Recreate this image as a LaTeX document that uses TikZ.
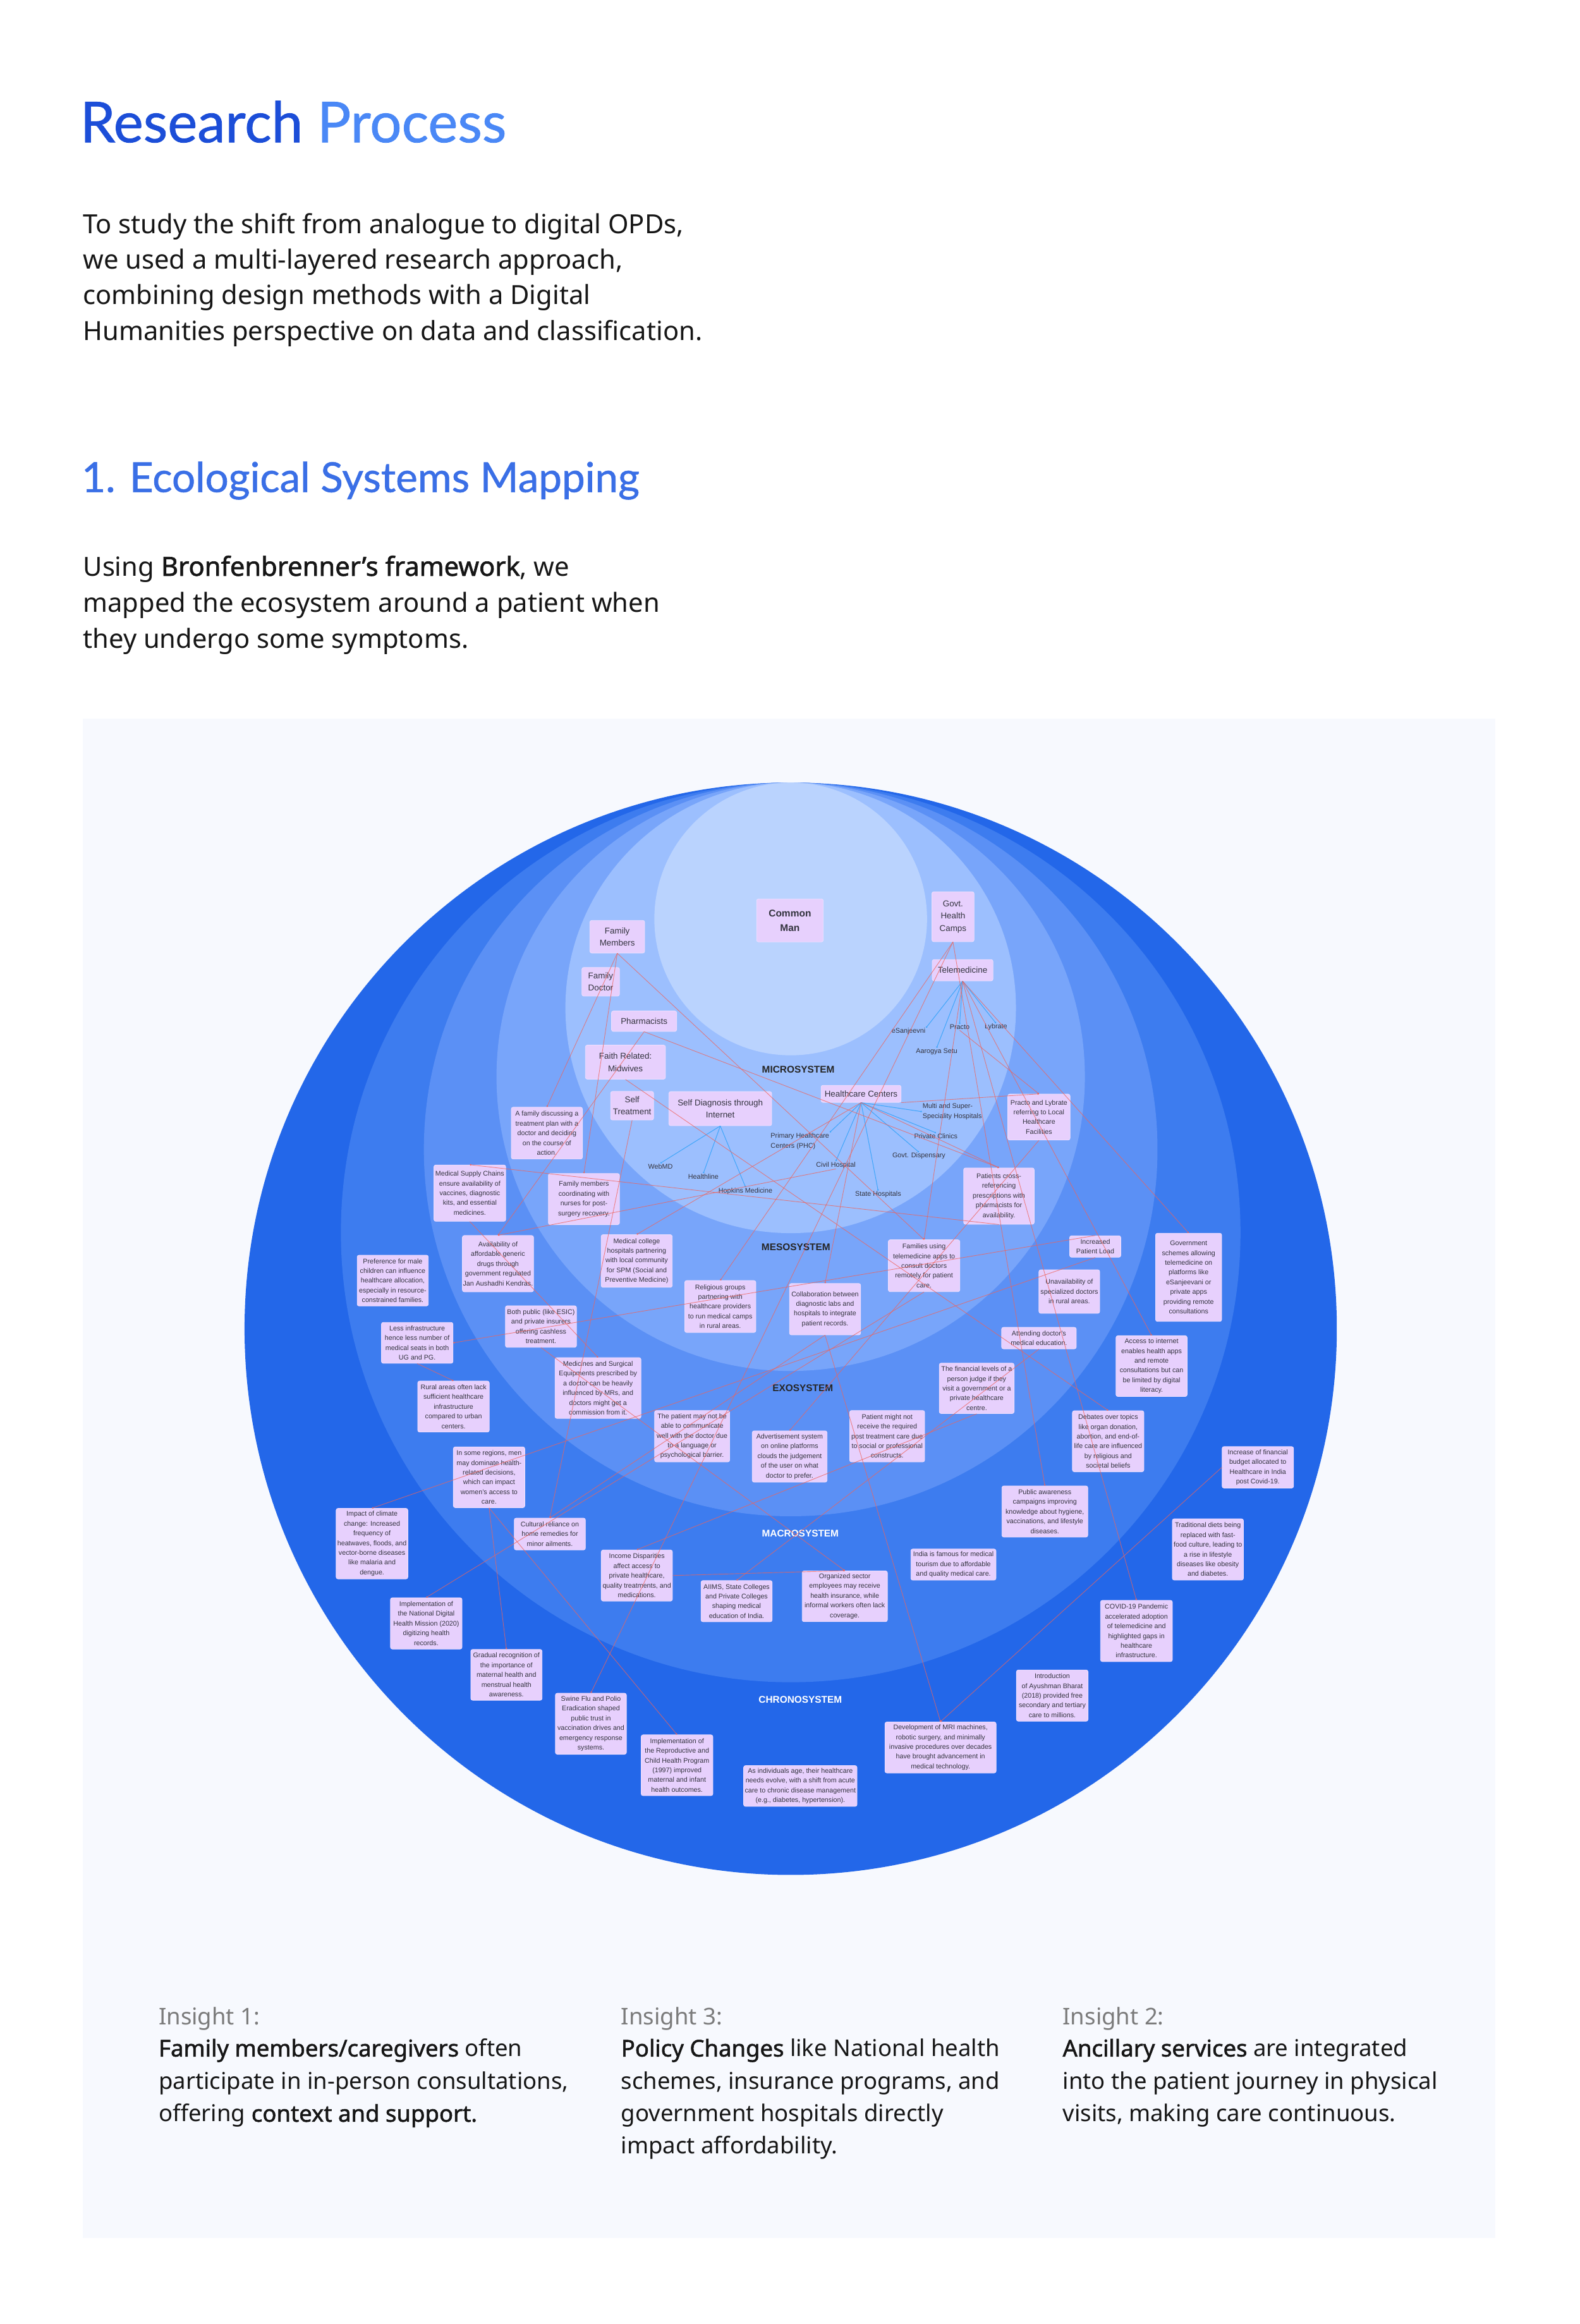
\documentclass[tikz,border=0pt]{standalone}
\usepackage{fontspec}
\setmainfont{Noto Sans}
\newfontfamily\bodybold{Noto Sans}[FakeBold=1.6]
\newfontfamily\diag{Liberation Sans}
\newfontfamily\headf{Lato}[FakeBold=0.9]
\newcommand\bb[1]{{\bodybold #1}}
\usetikzlibrary{arrows.meta}
\definecolor{panel}{HTML}{F7F9FE}
\definecolor{cA}{HTML}{2367E9}
\definecolor{cB}{HTML}{3D7CEF}
\definecolor{cC}{HTML}{5B90F5}
\definecolor{cD}{HTML}{78A5FA}
\definecolor{cE}{HTML}{9CBFFE}
\definecolor{cF}{HTML}{BAD3FE}
\definecolor{boxfill}{HTML}{E7D0FD}
\definecolor{boxline}{HTML}{EEDFFE}
\definecolor{boxtext}{HTML}{34343F}
\definecolor{redline}{HTML}{EE635C}
\definecolor{blueline}{HTML}{3FA6FA}
\definecolor{titleA}{HTML}{1C4ED8}
\definecolor{titleB}{HTML}{4A88F6}
\definecolor{headblue}{HTML}{3A6FE6}
\definecolor{graytext}{HTML}{7B7B7B}
\definecolor{bodytext}{HTML}{161616}
\tikzset{
  dbox/.style 2 args={draw=boxline, line width=0.8pt, fill=boxfill, rounded corners=3pt,
    text=boxtext, align=center, font=\diag\fontsize{10.7}{15.4}\selectfont, inner sep=1pt,
    minimum width=#1*2.3451pt, minimum height=#2*2.3451pt},
  mbox/.style 2 args={dbox={#1}{#2}, font=\diag\fontsize{13.4}{19.5}\selectfont},
  sublabel/.style={text=boxtext, font=\diag\fontsize{10.8}{16}\selectfont, inner sep=1pt},
  syslabel/.style={font=\diag\bfseries\fontsize{15.4}{18}\selectfont, inner sep=0pt},
  rl/.style={draw=redline, line width=0.9pt, draw opacity=0.75, -{Circle[length=2.6pt]}},
  bl/.style={draw=blueline, line width=1pt, -{Circle[length=2.4pt]}},
  para/.style={anchor=base west, inner sep=0pt, text=bodytext, font=\fontsize{41.7}{56}\selectfont},
  ins/.style={anchor=base west, inner sep=0pt, text=bodytext, font=\fontsize{36.5}{51}\selectfont},
}
\begin{document}
\begin{tikzpicture}[x=2.3451pt, y=-2.3451pt]
\useasboundingbox (0,0) rectangle (1066,1568);
\fill[white] (0,0) rectangle (1066,1568);

% ---------- header texts ----------
\node[anchor=base west, inner sep=0pt, font=\headf\fontsize{89}{100}\selectfont] (title) at (54,96)
  {\textcolor{titleA}{Research} \textcolor{titleB}{Process}};
\node[para] (intro1) at (56,157.5) {To study the shift from analogue to digital OPDs,};
\node[para] (intro2) at (56,181.5) {we used a multi-layered research approach,};
\node[para] (intro3) at (56,205.5) {combining design methods with a Digital};
\node[para] (intro4) at (56,229.5) {Humanities perspective on data and classification.};
\node[anchor=base west, inner sep=0pt, text=headblue, font=\headf\fontsize{65.5}{75}\selectfont] (head1) at (55,332)
  {1. Ecological Systems Mapping};
\node[para] (use1) at (56,388.5) {Using \bb{Bronfenbrenner’s framework}, we};
\node[para] (use2) at (56,413) {mapped the ecosystem around a patient when};
\node[para] (use3) at (56,437.5) {they undergo some symptoms.};

% ---------- panel and circles ----------
\fill[panel] (56,485) rectangle (1009,1510);
\fill[cA] (533.5,896.5) circle[radius=368.5];
\fill[cB] (533.5,831.5) circle[radius=303.5];
\fill[cC] (533.5,775.5) circle[radius=247.5];
\fill[cD] (533.5,726.5) circle[radius=198.5];
\fill[cE] (533.5,680) circle[radius=152];
\fill[cF] (533.5,620) circle[radius=92];

% ---------- system labels ----------
\node[syslabel, text=black!85] (lmicro) at (538.6,721.4) {MICROSYSTEM};
\node[syslabel, text=black!85] (lmeso) at (537,841.5) {MESOSYSTEM};
\node[syslabel, text=black!85] (lexo) at (541.7,936.7) {EXOSYSTEM};
\node[syslabel, text=white] (lmacro) at (540,1034.8) {MACROSYSTEM};
\node[syslabel, text=white] (lchrono) at (540,1146.6) {CHRONOSYSTEM};

% ---------- microsystem boxes ----------
\node[mbox={45}{29}, font=\diag\bfseries\fontsize{15.5}{23}\selectfont] (CommonMan) at (533,621) {Common\\Man};
\node[mbox={28.5}{33.7}] (GHC) at (643,618.5) {Govt.\\Health\\Camps};
\node[mbox={41}{14.4}] (Tele) at (649.5,654.6) {Telemedicine};
\node[mbox={37}{22}] (FamMem) at (416.5,632) {Family\\Members};
\node[mbox={25.4}{19.3}] (FamDoc) at (405.3,662.4) {Family\\Doctor};
\node[mbox={44}{13.8}] (Pharm) at (434.6,689) {Pharmacists};
\node[mbox={54}{23}] (Midwives) at (422,716.6) {Faith Related:\\Midwives};
\node[mbox={29}{19.3}] (SelfTreat) at (426.5,746) {Self\\Treatment};
\node[mbox={69.4}{23}] (SelfDiag) at (486,748) {Self Diagnosis through\\Internet};
\node[mbox={54}{11.5}] (HC) at (581,738) {Healthcare Centers};

% ---------- sub labels ----------
\node[sublabel] (eSanj) at (613,696) {eSanjeevni};
\node[sublabel] (Practo) at (647.5,693) {Practo};
\node[sublabel] (Lybrate) at (672,693) {Lybrate};
\node[sublabel] (Aarogya) at (632,709.5) {Aarogya Setu};
\node[sublabel, anchor=west, align=left] (Multi) at (622,750) {Multi and Super-\\Speciality Hospitals};
\node[sublabel] (PrivClin) at (631.5,766.5) {Private Clinics};
\node[sublabel, anchor=west, align=left] (PHC) at (519.5,770) {Primary Healthcare\\Centers (PHC)};
\node[sublabel] (Dispensary) at (620,780) {Govt. Dispensary};
\node[sublabel] (Civil) at (564,786) {Civil Hospital};
\node[sublabel] (State) at (592.5,806) {State Hospitals};
\node[sublabel] (WebMD) at (445.6,787) {WebMD};
\node[sublabel] (Healthline) at (474.6,793.8) {Healthline};
\node[sublabel] (Hopkins) at (503,803.5) {Hopkins Medicine};

% ---------- description boxes ----------
\node[dbox={42}{31}] (PractoRef) at (701,753.7) {Practo and Lybrate\\referring to Local\\Healthcare\\Facilities};
\node[dbox={48}{35}] (FamDisc) at (369,764.5) {A family discussing a\\treatment plan with a\\doctor and deciding\\on the course of\\action.};
\node[dbox={48.5}{38}] (MedSupply) at (317,805) {Medical Supply Chains\\ensure availability of\\vaccines, diagnostic\\kits, and essential\\medicines.};
\node[dbox={48}{34.5}] (FamNurses) at (394,809) {Family members\\coordinating with\\nurses for post-\\surgery recovery.};
\node[dbox={47.6}{38}] (PatCross) at (674,807) {Patients cross-\\referencing\\prescriptions with\\pharmacists for\\availability.};
\node[dbox={48}{38}] (Avail) at (336,852.6) {Availability of\\affordable generic\\drugs through\\government regulated\\Jan Aushadhi Kendras.};
\node[dbox={48}{35.5}] (MedCollege) at (429.6,850.8) {Medical college\\hospitals partnering\\with local community\\for SPM (Social and\\Preventive Medicine)};
\node[dbox={48.3}{35}] (FamTele) at (623.5,854) {Families using\\telemedicine apps to\\consult doctors\\remotely for patient\\care.};
\node[dbox={34.5}{14.5}] (IncLoad) at (739,841) {Increased\\Patient Load};
\node[dbox={44.6}{59.5}] (GovSchemes) at (802,861.8) {Government\\schemes allowing\\telemedicine on\\platforms like\\eSanjeevani or\\private apps\\providing remote\\consultations};
\node[dbox={48}{34.3}] (Pref) at (265,864) {Preference for male\\children can influence\\healthcare allocation,\\especially in resource-\\constrained families.};
\node[dbox={48}{35}] (Religious) at (486,881.5) {Religious groups\\partnering with\\healthcare providers\\to run medical camps\\in rural areas.};
\node[dbox={48}{34.7}] (Collab) at (556.7,883.3) {Collaboration between\\diagnostic labs and\\hospitals to integrate\\patient records.};
\node[dbox={41}{29.4}] (Unavail) at (721.5,871.4) {Unavailability of\\specialized doctors\\in rural areas.};
\node[dbox={48}{28}] (BothPub) at (365,895) {Both public (like ESIC)\\and private insurers\\offering cashless\\treatment.};
\node[dbox={48.3}{27.6}] (LessInfra) at (281.5,906) {Less infrastructure\\hence less number of\\medical seats in both\\UG and PG.};
\node[dbox={50.4}{14.5}] (Attending) at (701,902.8) {Attending doctor’s\\medical education.};
\node[dbox={48}{41}] (Access) at (777,921.7) {Access to internet\\enables health apps\\and remote\\consultations but can\\be limited by digital\\literacy.};
\node[dbox={50.5}{34}] (Financial) at (659,936.7) {The financial levels of a\\person judge if they\\visit a government or a\\private healthcare\\centre.};
\node[dbox={58}{41}] (Medicines) at (403.5,936.5) {Medicines and Surgical\\Equipments prescribed by\\a doctor can be heavily\\influenced by MRs, and\\doctors might get a\\commission from it.};
\node[dbox={48.3}{34.4}] (Rural) at (306,949) {Rural areas often lack\\sufficient healthcare\\infrastructure\\compared to urban\\centers.};
\node[dbox={50.7}{34.7}] (PatComm) at (467,969) {The patient may not be\\able to communicate\\well with the doctor due\\to a language or\\psychological barrier.};
\node[dbox={50.5}{34.6}] (Advert) at (532.8,982.7) {Advertisement system\\on online platforms\\clouds the judgement\\of the user on what\\doctor to prefer.};
\node[dbox={50.6}{34.7}] (PostCare) at (598.6,969) {Patient might not\\receive the required\\post treatment care due\\to social or professional\\constructs.};
\node[dbox={48.2}{41.2}] (Debates) at (747.7,972.4) {Debates over topics\\like organ donation,\\abortion, and end-of-\\life care are influenced\\by religious and\\societal beliefs};
\node[dbox={48.2}{28}] (IncBudget) at (848.7,990) {Increase of financial\\budget allocated to\\Healthcare in India\\post Covid-19.};
\node[dbox={48.2}{41}] (InSome) at (330,996.7) {In some regions, men\\may dominate health-\\related decisions,\\which can impact\\women’s access to\\care.};
\node[dbox={58}{34.5}] (PublicAw) at (705,1019.8) {Public awareness\\campaigns improving\\knowledge about hygiene,\\vaccinations, and lifestyle\\diseases.};
\node[dbox={48.4}{47.6}] (Climate) at (251,1041.5) {Impact of climate\\change: Increased\\frequency of\\heatwaves, floods, and\\vector-borne diseases\\like malaria and\\dengue.};
\node[dbox={48}{21.5}] (Cultural) at (371,1035) {Cultural reliance on\\home remedies for\\minor ailments.};
\node[dbox={48}{41.3}] (TradDiet) at (815,1045.4) {Traditional diets being\\replaced with fast-\\food culture, leading to\\a rise in lifestyle\\diseases like obesity\\and diabetes.};
\node[dbox={48}{34.5}] (Income) at (429.7,1063) {Income Disparities\\affect access to\\private healthcare,\\quality treatments, and\\medications.};
\node[dbox={57.4}{21}] (Tourism) at (643.3,1055.6) {India is famous for medical\\tourism due to affordable\\and quality medical care.};
\node[dbox={48}{27.8}] (AIIMS) at (497,1080.3) {AIIMS, State Colleges\\and Private Colleges\\shaping medical\\education of India.};
\node[dbox={57.5}{34.3}] (Organized) at (570,1077) {Organized sector\\employees may receive\\health insurance, while\\informal workers often lack\\coverage.};
\node[dbox={48.3}{34.6}] (NatDigital) at (287.6,1095.3) {Implementation of\\the National Digital\\Health Mission (2020)\\digitizing health\\records.};
\node[dbox={48.5}{41.3}] (Covid) at (766.8,1100.4) {COVID-19 Pandemic\\accelerated adoption\\of telemedicine and\\highlighted gaps in\\healthcare\\infrastructure.};
\node[dbox={48.1}{34.3}] (Gradual) at (341.7,1130) {Gradual recognition of\\the importance of\\maternal health and\\menstrual health\\awareness.};
\node[dbox={48.3}{34.6}] (Ayushman) at (710,1144) {Introduction\\of Ayushman Bharat\\(2018) provided free\\secondary and tertiary\\care to millions.};
\node[dbox={47.9}{41.2}] (Swine) at (398.7,1163) {Swine Flu and Polio\\Eradication shaped\\public trust in\\vaccination drives and\\emergency response\\systems.};
\node[dbox={75}{34.4}] (MRI) at (634.6,1179) {Development of MRI machines,\\robotic surgery, and minimally\\invasive procedures over decades\\have brought advancement in\\medical technology.};
\node[dbox={48.4}{41}] (Reproductive) at (456.8,1191) {Implementation of\\the Reproductive and\\Child Health Program\\(1997) improved\\maternal and infant\\health outcomes.};
\node[dbox={76.5}{27.5}] (Aging) at (540,1205) {As individuals age, their healthcare\\needs evolve, with a shift from acute\\care to chronic disease management\\(e.g., diabetes, hypertension).};

% ---------- blue connectors ----------
\draw[bl] (Tele.south) -- (eSanj.north east);
\draw[bl] (Tele.south) -- (Practo.north);
\draw[bl] (Tele.south) -- (Lybrate.north);
\draw[bl] (Tele.south) -- (Aarogya.north);
\draw[bl] (SelfDiag.south) -- (WebMD.north);
\draw[bl] (SelfDiag.south) -- (Healthline.north);
\draw[bl] (SelfDiag.south) -- (Hopkins.north);
\draw[bl] (HC.south) -- (Multi.west);
\draw[bl] (HC.south) -- (PrivClin.north);
\draw[bl] (HC.south) -- (Dispensary.north);
\draw[bl] (HC.south) -- (State.north);
\draw[bl] (HC.south) -- (Civil.north);
\draw[bl] (HC.south) -- (PHC.north east);

% ---------- red connectors ----------
\draw[rl] (FamMem.south) -- (FamDisc.north);
\draw[rl] (FamMem.south) -- (FamNurses.north);
\draw[rl] (FamMem.south) -- (FamTele.north);
\draw[rl] (Pharm.south) -- (Avail.north);
\draw[rl] (Pharm.south) -- (PatCross.north);
\draw[rl] (Midwives.south) -- (Debates.north);
\draw[rl] (SelfTreat.south) -- (Cultural.north);
\draw[rl] (GHC.south) -- (Religious.north);
\draw[rl] (GHC.south) -- (Swine.north);
\draw[rl] (GHC.south) -- (PublicAw.north);
\draw[rl] (Tele.south) -- (GovSchemes.north);
\draw[rl] (Tele.south) -- (Access.north);
\draw[rl] (Tele.south) -- (Covid.north);
\draw[rl] (Tele.south) -- (FamTele.north);
\draw[rl] (Practo.south) -- (PractoRef.north);
\draw[rl] (HC.south east) -- (PractoRef.north);
\draw[rl] (HC.south) -- (PatCross.north);
\draw[rl] (HC.south) -- (MedCollege.north);
\draw[rl] (HC.south) -- (Collab.north);
\draw[rl] (Civil.south) -- (Avail.north);
\draw[rl] (PatCross.south) -- (MedSupply.north);
\draw[rl] (MedSupply.south) -- (Medicines.north);
\draw[rl] (IncLoad.north) -- (LessInfra.east);
\draw[rl] (LessInfra.south) -- (Rural.north);
\draw[rl] (IncLoad.south) -- (Climate.north);
\draw[rl] (PractoRef.south) -- (Advert.north);
\draw[rl] (Collab.south) -- (Cultural.north);
\draw[rl] (Collab.south) -- (MRI.north);
\draw[rl] (Attending.south) -- (AIIMS.north);
\draw[rl] (Financial.south) -- (Income.north);
\draw[rl] (Income.east) -- (Organized.north);
\draw[rl] (BothPub.south) -- (Organized.north);
\draw[rl] (InSome.south) -- (Reproductive.north);
\draw[rl] (InSome.south) -- (Gradual.north);
\draw[rl] (FamTele.south) -- (NatDigital.north);
\draw[rl] (IncBudget.west) -- (MRI.north);

% ---------- insights ----------
\node[ins, text=graytext] (i1h) at (107,1366) {Insight 1:};
\node[ins] (i1a) at (107,1387.5) {\bb{Family members/caregivers} often};
\node[ins] (i1b) at (107,1409.5) {participate in in-person consultations,};
\node[ins] (i1c) at (107,1431.5) {offering \bb{context and support.}};
\node[ins, text=graytext] (i3h) at (419,1366) {Insight 3:};
\node[ins] (i3a) at (419,1387.5) {\bb{Policy Changes} like National health};
\node[ins] (i3b) at (419,1409.5) {schemes, insurance programs, and};
\node[ins] (i3c) at (419,1431.5) {government hospitals directly};
\node[ins] (i3d) at (419,1453) {impact affordability.};
\node[ins, text=graytext] (i2h) at (717,1366) {Insight 2:};
\node[ins] (i2a) at (717,1387.5) {\bb{Ancillary services} are integrated};
\node[ins] (i2b) at (717,1409.5) {into the patient journey in physical};
\node[ins] (i2c) at (717,1431.5) {visits, making care continuous.};
\end{tikzpicture}
\end{document}
